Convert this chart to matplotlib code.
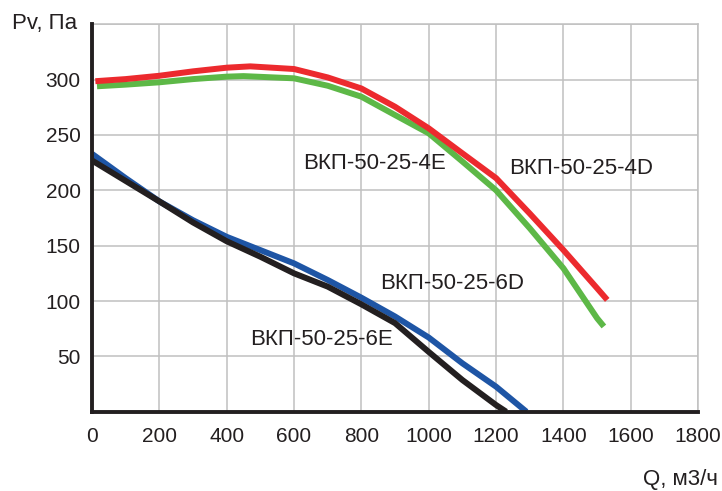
import matplotlib.pyplot as plt

plt.rcParams['font.family'] = ['Liberation Sans', 'DejaVu Sans']

# ВКП-50-25-4D (red)
q_4d = [10, 100, 200, 300, 400, 470, 600, 700, 800, 900, 1000, 1100, 1200, 1300, 1400, 1500, 1530]
p_4d = [298.6, 300.5, 303.5, 307.5, 310.8, 312, 309.6, 302, 292, 275.5, 256, 233.4, 211, 179, 146, 111.5, 101]

# ВКП-50-25-4E (green)
q_4e = [15, 100, 200, 300, 400, 450, 600, 700, 800, 900, 1000, 1100, 1200, 1300, 1400, 1500, 1520]
p_4e = [294, 295.5, 297.6, 300.5, 302.7, 303.2, 301.2, 294.5, 284.6, 268, 251.5, 226, 200, 165.7, 129.5, 84.4, 77]

# ВКП-50-25-6D (blue)
q_6d = [0, 100, 200, 300, 400, 500, 600, 700, 800, 900, 1000, 1100, 1200, 1290]
p_6d = [233, 211, 190, 173, 158, 146, 134, 119, 103, 86, 67, 43.7, 22.6, 0]

# ВКП-50-25-6E (black)
q_6e = [0, 100, 200, 300, 400, 500, 600, 700, 800, 900, 1000, 1100, 1200, 1230]
p_6e = [227, 208.5, 190, 171, 154, 140, 125, 113, 97, 80, 54, 28.6, 6, 0]

x_ticks = [0, 200, 400, 600, 800, 1000, 1200, 1400, 1600, 1800]
y_ticks = [0, 50, 100, 150, 200, 250, 300, 350]
y_labels = ['', '50', '100', '150', '200', '250', '300', '']

fig = plt.figure(figsize=(7.22, 4.91), dpi=100)
ax = fig.add_axes([0.1274, 0.1615, 0.967 - 0.1274, 0.9505 - 0.1615])

lw = 4.3
style = dict(lw=lw, solid_capstyle='butt', solid_joinstyle='round')
ax.plot(q_4e, p_4e, color='#5db847', **style)
ax.plot(q_4d, p_4d, color='#ec2a2e', **style)
ax.plot(q_6d, p_6d, color='#1e55a5', **style)
ax.plot(q_6e, p_6e, color='#231f20', **style)

ax.set_xlim(0, 1800)
ax.set_ylim(0, 350)
ax.set_xticks(x_ticks)
ax.set_yticks(y_ticks)
ax.set_yticklabels(y_labels)
ax.tick_params(axis='both', length=0, labelsize=15, colors='#231f20')
ax.tick_params(axis='x', pad=11)
ax.tick_params(axis='y', pad=8)
ax.grid(True, color='#c0c0c0', lw=1.1)
ax.set_axisbelow(True)

for s in ['top', 'right']:
    ax.spines[s].set_color('#c0c0c0')
    ax.spines[s].set_linewidth(1.1)
for s in ['left', 'bottom']:
    ax.spines[s].set_color('#231f20')
    ax.spines[s].set_linewidth(2.8)
    ax.spines[s].set_zorder(5)

lab = dict(fontsize=16, color='#231f20', ha='left', va='center')
ax.text(627, 224, 'ВКП-50-25-4E', **lab)
ax.text(1239, 220, 'ВКП-50-25-4D', **lab)
ax.text(857, 116, 'ВКП-50-25-6D', **lab)
ax.text(469, 65, 'ВКП-50-25-6E', **lab)

fig.text(12 / 722, 1 - 23 / 491, 'Pv, Па', fontsize=16, color='#231f20', ha='left', va='center')
fig.text(718 / 722, 1 - 479 / 491, 'Q, м3/ч', fontsize=16, color='#231f20', ha='right', va='center')

fig.savefig('out.png', dpi=100)
